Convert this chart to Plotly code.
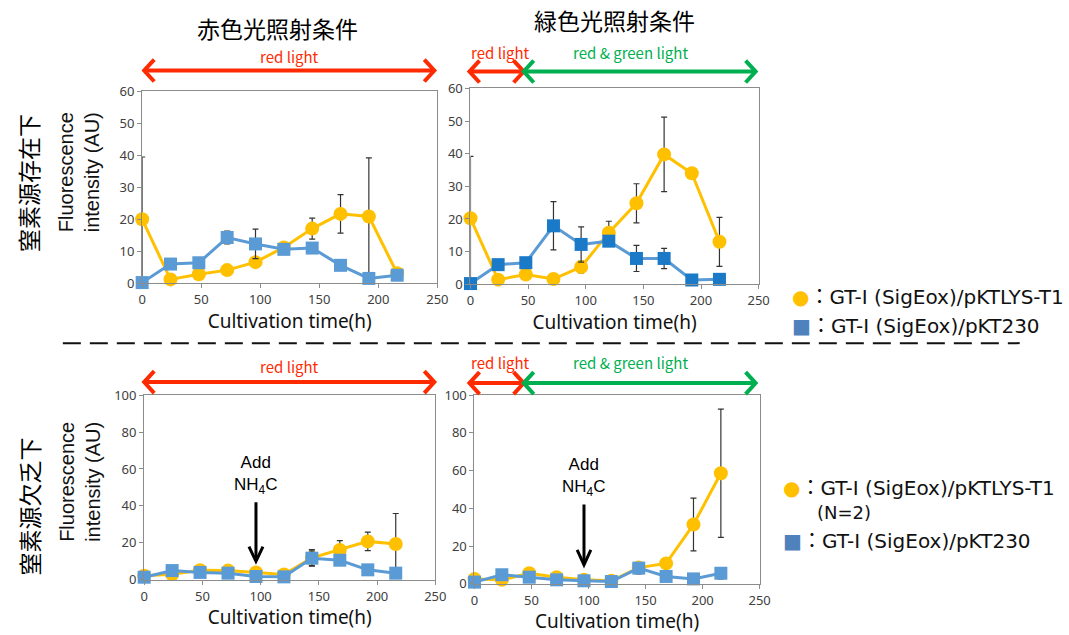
import plotly.graph_objects as go

W, H = 1069, 635

# ---------------- data ----------------
times = [0, 24, 48, 72, 96, 120, 144, 168, 192, 216]

# top-left: nitrogen present, red light
p1_lys = [20.0, 1.2, 2.8, 4.1, 6.6, 11.2, 17.1, 21.7, 20.9, 3.1]
p1_lys_err = [19.5, 0, 0, 0, 0, 1.0, 3.3, 6.0, 18.3, 0]
p1_230 = [0.2, 6.0, 6.4, 14.3, 12.3, 10.6, 11.0, 5.6, 1.5, 2.5]
p1_230_err = [0, 0, 0, 2.0, 4.6, 0, 0, 0, 0, 0]

# top-right: nitrogen present, green light
p2_lys = [20.2, 1.4, 3.0, 1.6, 5.3, 15.8, 24.8, 39.8, 34.0, 13.0]
p2_lys_err = [19.0, 0, 0, 0, 1.8, 3.5, 6.0, 11.4, 0, 7.5]
p2_230 = [0.2, 6.0, 6.6, 17.9, 12.2, 13.2, 7.9, 7.9, 1.3, 1.5]
p2_230_err = [0, 0, 0, 7.4, 5.4, 0, 4.0, 3.1, 0, 0]

# bottom-left: nitrogen starved, red light
p3_lys = [2.2, 3.0, 5.2, 5.0, 4.0, 2.9, 11.9, 16.2, 20.8, 19.4]
p3_lys_err = [0, 0, 0, 0, 0, 0, 4.5, 5.0, 5.0, 16.5]
p3_230 = [1.4, 5.0, 4.0, 3.6, 1.8, 1.6, 11.7, 10.6, 5.4, 3.6]
p3_230_err = [0, 0, 0, 0, 0, 0, 4.0, 0, 0, 0]

# bottom-right: nitrogen starved, green light
p4_lys = [2.5, 2.1, 5.6, 3.5, 2.1, 1.6, 8.6, 10.8, 31.4, 58.6]
p4_lys_err = [0, 0, 0, 0, 0, 0, 2.0, 0, 14.0, 34.0]
p4_230 = [0.9, 4.8, 3.5, 2.1, 1.6, 1.2, 8.3, 3.9, 2.6, 5.6]
p4_230_err = [0, 0, 0, 0, 0, 0, 3.0, 0, 0, 3.0]

x_ticks = [0, 50, 100, 150, 200, 250]
add_time = 96

YEL = "#FFC000"
BLU_LINE = "#5B9BD5"
BLU_MK = "#5B9BD5"
BLU_MK2 = "#1A7AC8"
RED = "#FF2A00"
GRN = "#00B050"


# target pixel -> paper fraction (with small calibration of the capture)
def px(x):
    return ((x - 3.4) / 0.982) / W


def py(y):
    return 1 - ((y - 8.4) / 0.973) / H


fig = go.Figure()

panels = [
    (1, p1_lys, p1_lys_err, p1_230, p1_230_err, BLU_MK),
    (2, p2_lys, p2_lys_err, p2_230, p2_230_err, BLU_MK2),
    (3, p3_lys, p3_lys_err, p3_230, p3_230_err, BLU_MK),
    (4, p4_lys, p4_lys_err, p4_230, p4_230_err, BLU_MK),
]

for i, ly, lye, bl, ble, bmk in panels:
    xa = "x" if i == 1 else f"x{i}"
    ya = "y" if i == 1 else f"y{i}"
    fig.add_trace(go.Scatter(
        x=times, y=ly, xaxis=xa, yaxis=ya, mode="lines+markers",
        name="GT-I (SigEox)/pKTLYS-T1", showlegend=False,
        line=dict(color=YEL, width=3),
        marker=dict(symbol="circle", size=14, color=YEL),
        error_y=dict(type="data", array=lye, visible=True, color="#333333",
                     thickness=1.2, width=3),
        cliponaxis=False,
    ))
    fig.add_trace(go.Scatter(
        x=times, y=bl, xaxis=xa, yaxis=ya, mode="lines+markers",
        name="GT-I (SigEox)/pKT230", showlegend=False,
        line=dict(color=BLU_LINE, width=3),
        marker=dict(symbol="square", size=13, color=bmk),
        error_y=dict(type="data", array=ble, visible=True, color="#333333",
                     thickness=1.2, width=3),
        cliponaxis=False,
    ))

axis_common = dict(showline=True, mirror=True, linecolor="#8C8C8C", linewidth=1.2,
                   showgrid=False, zeroline=False, ticks="outside", ticklen=4,
                   tickcolor="#8C8C8C",
                   tickfont=dict(family="Noto Sans", size=13, color="#404040"))

doms = {
    1: ([141, 435], [91, 283], 60, 10),
    2: ([468, 755], [88, 284], 60, 10),
    3: ([143, 433], [395, 580], 100, 20),
    4: ([472, 756], [395, 584], 100, 20),
}

layout = {}
for i, (xd, yd, ymax, dy) in doms.items():
    sfx = "" if i == 1 else str(i)
    layout[f"xaxis{sfx}"] = dict(
        domain=[px(xd[0]), px(xd[1])], range=[0, 250], tickvals=x_ticks,
        anchor="y" + sfx,
        title=dict(text="Cultivation time(h)", standoff=4,
                   font=dict(family="Noto Sans", size=19, color="#111111")),
        **axis_common)
    layout[f"yaxis{sfx}"] = dict(
        domain=[py(yd[1]), py(yd[0])], range=[0, ymax], dtick=dy,
        anchor="x" + sfx, **axis_common)

fig.update_layout(**layout)

shapes = []
annotations = []


def dbl_arrow(x0, x1, y, color):
    shapes.append(dict(type="line", xref="paper", yref="paper",
                       x0=px(x0 + 2), x1=px(x1 - 2), y0=py(y), y1=py(y),
                       line=dict(color=color, width=4)))
    hl, hh = 10, 11
    for xt, d in ((x0, 1), (x1, -1)):
        path = (f"M {px(xt + d * hl)},{py(y - hh)} L {px(xt)},{py(y)} "
                f"L {px(xt + d * hl)},{py(y + hh)}")
        shapes.append(dict(type="path", xref="paper", yref="paper", path=path,
                           line=dict(color=color, width=4)))


for yy in (70, 382):
    dbl_arrow(143, 432, yy, RED)
    dbl_arrow(467, 521, yy + 1, RED)
    dbl_arrow(521, 752, yy + 1, GRN)


def label(x, y, text, size, color="#000", family="Noto Sans CJK JP", angle=0,
          xanchor="center"):
    annotations.append(dict(x=px(x), y=py(y), xref="paper", yref="paper",
                            text=text, showarrow=False, textangle=angle,
                            xanchor=xanchor, yanchor="middle",
                            font=dict(family=family, size=size, color=color)))


label(276, 27, "赤色光照射条件", 23)
label(611, 19, "緑色光照射条件", 23)
label(288, 56, "red light", 15, RED)
label(498, 52, "red light", 15, RED)
label(627, 52, "red &amp; green light", 15, GRN)
label(288, 366, "red light", 15, RED)
label(498, 362, "red light", 15, RED)
label(627, 362, "red &amp; green light", 15, GRN)

label(28, 183, "窒素源存在下", 23, angle=-90)
label(28, 507, "窒素源欠乏下", 23, angle=-90)

# y-axis titles
label(78, 172, "Fluorescence<br>intensity (AU)", 20, "#111111",
      family="Liberation Sans", angle=-90)
label(79, 482, "Fluorescence<br>intensity (AU)", 20, "#111111",
      family="Liberation Sans", angle=-90)

# dashed separator
shapes.append(dict(type="line", xref="paper", yref="paper",
                   x0=px(62), x1=px(1015), y0=py(343), y1=py(343),
                   line=dict(color="#111111", width=2, dash="18px,9px")))


# legends
LEG_FONT = "DejaVu Sans, Noto Sans CJK JP"


def legend_item(x, y, glyph, color, text):
    annotations.append(dict(
        x=px(x), y=py(y), xref="paper", yref="paper", showarrow=False,
        xanchor="left", yanchor="middle", align="left",
        text=f"<span style='color:{color};font-size:20px'>{glyph}</span>{text}",
        font=dict(family=LEG_FONT, size=20, color="#111111")))


legend_item(786, 297, "●", YEL, "：GT-I (SigEox)/pKTLYS-T1")
legend_item(786, 326, "■", "#4F81BD", "：GT-I (SigEox)/pKT230")
legend_item(777, 488, "●", YEL, "：GT-I (SigEox)/pKTLYS-T1")
label(811, 513, "(N=2)", 18, "#111111", family=LEG_FONT, xanchor="left")
legend_item(777, 541, "■", "#4F81BD", "：GT-I (SigEox)/pKT230")

# "Add NH4C" arrows (in data coordinates of bottom panels)
for xa, ya in (("x3", "y3"), ("x4", "y4")):
    annotations.append(dict(
        x=add_time, y=44, xref=xa, yref=ya, showarrow=False,
        text="Add<br>NH<sub>4</sub>C", yanchor="bottom", xanchor="center",
        font=dict(family="Liberation Sans", size=17, color="#000")))
    shapes.append(dict(type="line", xref=xa, yref=ya, x0=add_time, x1=add_time,
                       y0=42, y1=11, line=dict(color="#000", width=3)))
    shapes.append(dict(type="path", xref=xa, yref=ya,
                       path=f"M {add_time - 6},{18} L {add_time},{10} L {add_time + 6},{18}",
                       line=dict(color="#000", width=3)))

fig.update_layout(
    width=W, height=H, autosize=False,
    margin=dict(l=0, r=0, t=0, b=0),
    paper_bgcolor="white", plot_bgcolor="white",
    showlegend=False,
    shapes=shapes, annotations=annotations,
)

post = (
    "document.documentElement.style.margin='0';"
    "document.documentElement.style.padding='0';"
    "document.documentElement.style.overflow='hidden';"
    "document.body.style.margin='0';"
    "document.body.style.padding='0';"
    "document.body.style.overflow='hidden';"
    "var d=document.getElementById('{plot_id}');"
    "d.style.display='block';"
    "if(d.parentElement){d.parentElement.style.margin='0';d.parentElement.style.lineHeight='0';}"
)

fig.write_html("out.html", config={"displayModeBar": False}, post_script=post)
